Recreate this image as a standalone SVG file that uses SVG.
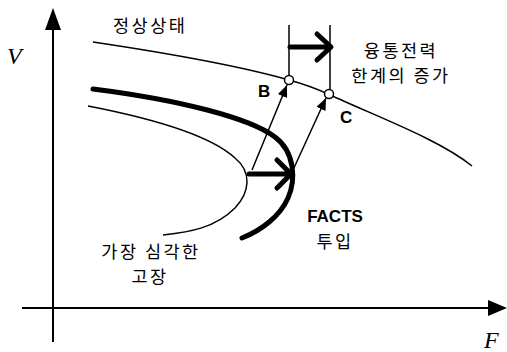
<svg xmlns="http://www.w3.org/2000/svg" width="507" height="352" viewBox="0 0 507 352">
<style>
.thin{fill:none;stroke:#000;stroke-width:1.5}
.thick{fill:none;stroke:#000;stroke-width:5;stroke-linecap:round;stroke-linejoin:round}
.ax{fill:none;stroke:#000;stroke-width:2}
.kr{font-family:"Noto Sans CJK KR","Noto Sans",sans-serif;font-size:17.5px;fill:#000;letter-spacing:2.5px}
.lat{font-family:"Liberation Sans",Arial,sans-serif;font-weight:bold;font-size:17px;fill:#000}
.it{font-family:"Liberation Serif","Times New Roman",serif;font-style:italic;font-size:24px;fill:#000}
.pt{fill:#fff;stroke:#000;stroke-width:1.5}
</style>
<defs>
<marker id="ah" viewBox="0 0 12 10" refX="12" refY="5" markerWidth="12" markerHeight="10" markerUnits="userSpaceOnUse" orient="auto">
<path d="M0,0 L12,5 L0,10 Z" fill="#000"/>
</marker>
</defs>
<g id="axes">
<line class="ax" x1="53" y1="342" x2="53" y2="26"/>
<path d="M45,30 L53,8 L61,30 Z" fill="#000"/>
<line class="ax" x1="22" y1="308" x2="490" y2="308"/>
<path d="M488,300 L507,308 L488,316 Z" fill="#000"/>
<text class="it" x="7" y="64">V</text>
<text class="it" x="484" y="348">F</text>
</g>
<g id="curves">
<path id="normal" class="thin" d="M93,42 C160,52 240,66 289,80 C300,83 315,88 328,94 C380,118 440,140 472,166"/>
<path id="facts" class="thick" d="M93,89 C180,100 250,118 275,137 C295,152 296,180 288,198 C280,216 262,230 242,238"/>
<path id="fault" class="thin" d="M88,106 C150,118 210,135 235,158 C252,172 250,192 235,208 C215,228 190,232 163,235"/>
</g>
<g id="connectors">
<line class="thin" x1="252" y1="170" x2="287" y2="85" marker-end="url(#ah)"/>
<line class="thin" x1="293" y1="170" x2="326" y2="98" marker-end="url(#ah)"/>
<line class="thin" x1="289" y1="25" x2="289" y2="76"/>
<line class="thin" x1="330" y1="25" x2="330" y2="90"/>
<path class="thick" d="M290,47 L330,47 M317,34 L331,47 L317,60"/>
<path class="thick" d="M249,174 L290,174 M277,160 L291,174 L277,188"/>
</g>
<g id="B"><circle class="pt" cx="289" cy="80" r="4.5"/><text class="lat" x="258" y="97">B</text></g>
<g id="C"><circle class="pt" cx="329" cy="94" r="4.5"/><text class="lat" x="340" y="123">C</text></g>
<g id="label-normal"><text class="kr" x="113" y="32">정상상태</text></g>
<g id="label-margin">
<text class="kr" x="401" y="57" text-anchor="middle">융통전력</text>
<text class="kr" x="401" y="82" text-anchor="middle">한계의 증가</text>
</g>
<g id="label-facts">
<text class="lat" x="335" y="222" text-anchor="middle" font-size="18">FACTS</text>
<text class="kr" x="335" y="248" text-anchor="middle">투입</text>
</g>
<g id="label-fault">
<text class="kr" x="151" y="258" text-anchor="middle">가장 심각한</text>
<text class="kr" x="150" y="283" text-anchor="middle">고장</text>
</g>
</svg>
